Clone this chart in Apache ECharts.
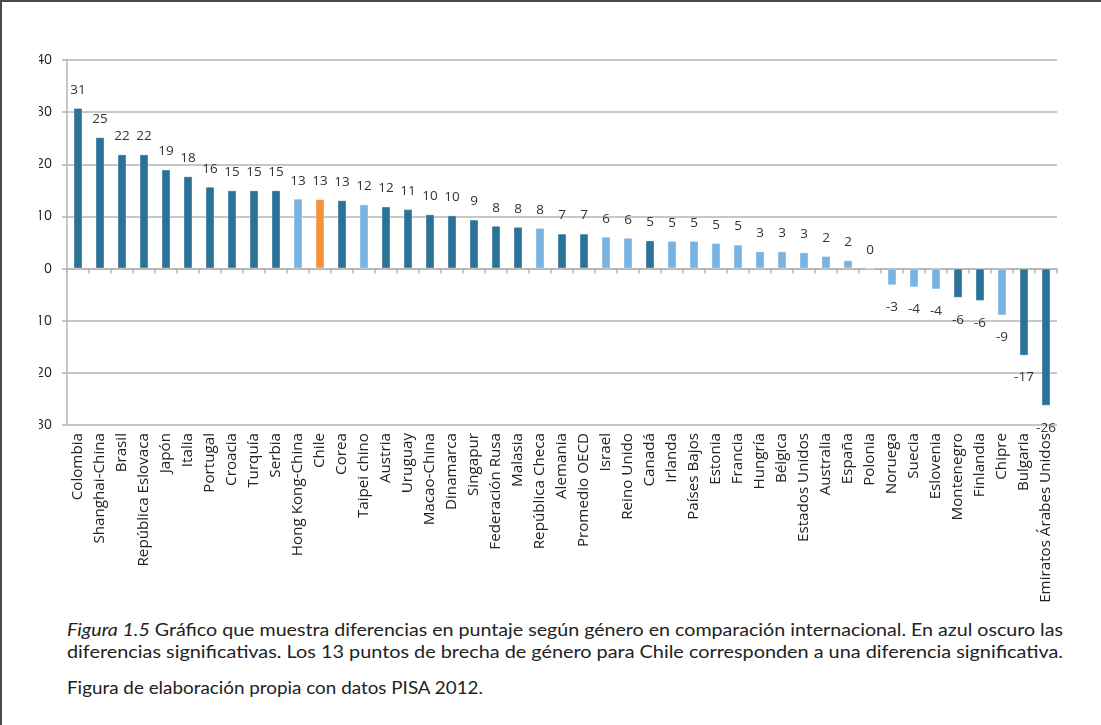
<!DOCTYPE html>
<html>
<head>
<meta charset="utf-8">
<script src="https://cdn.jsdelivr.net/npm/echarts@6/dist/echarts.min.js"></script>
<style>
  html, body { margin: 0; padding: 0; background: #fff; }
  #page { position: relative; width: 1101px; height: 725px; overflow: hidden; }
  #frame { position: absolute; left: 0; top: 0; width: 1101px; height: 725px;
           border-left: 2px solid #4a4a4a; border-top: 2px solid #4a4a4a; box-sizing: border-box; }
  #chart { position: absolute; left: 0; top: 0; width: 1101px; height: 610px;
           clip-path: inset(0 0 0 39px); }
  .cap { position: absolute; left: 67px; white-space: nowrap; color: #222;
         font-family: Lato, "Open Sans", sans-serif; font-size: 17px; transform-origin: 0 0; }
  .cap i { font-style: italic; }
</style>
</head>
<body>
<div id="page">
  <div id="frame"></div>
  <div id="chart"></div>
  <div class="cap" id="cap1" style="top:619px"><i>Figura 1.5</i> Gráfico que muestra diferencias en puntaje según género en comparación internacional. En azul oscuro las</div>
  <div class="cap" id="cap2" style="top:641px">diferencias significativas. Los 13 puntos de brecha de género para Chile corresponden a una diferencia significativa.</div>
  <div class="cap" id="cap3" style="top:677px">Figura de elaboración propia con datos PISA 2012.</div>
</div>
<script>
// PISA 2012: score gap by gender (points), by country
const countries = [
  'Colombia', 'Shanghai-China', 'Brasil', 'República Eslovaca', 'Japón', 'Italia',
  'Portugal', 'Croacia', 'Turquía', 'Serbia', 'Hong Kong-China', 'Chile', 'Corea',
  'Taipei chino', 'Austria', 'Uruguay', 'Macao-China', 'Dinamarca', 'Singapur',
  'Federación Rusa', 'Malasia', 'República Checa', 'Alemania', 'Promedio OECD',
  'Israel', 'Reino Unido', 'Canadá', 'Irlanda', 'Países Bajos', 'Estonia', 'Francia',
  'Hungría', 'Bélgica', 'Estados Unidos', 'Australia', 'España', 'Polonia', 'Noruega',
  'Suecia', 'Eslovenia', 'Montenegro', 'Finlandia', 'Chipre', 'Bulgaria',
  'Emiratos Árabes Unidos'
];
const gaps = [
  30.8, 25.2, 21.9, 21.9, 19.0, 17.7,
  15.7, 15.0, 15.0, 15.0, 13.4, 13.3, 13.1,
  12.3, 11.9, 11.4, 10.4, 10.2, 9.4,
  8.2, 8.0, 7.8, 6.7, 6.7,
  6.1, 5.9, 5.4, 5.3, 5.3, 4.9, 4.6,
  3.3, 3.3, 3.1, 2.4, 1.6, 0, -3.2,
  -3.6, -4.0, -5.6, -6.2, -9.0, -16.7,
  -26.3
];
// 1 = statistically significant difference
const significant = [
  1, 1, 1, 1, 1, 1,
  1, 1, 1, 1, 0, 1, 1,
  0, 1, 1, 1, 1, 1,
  1, 1, 0, 1, 1,
  0, 0, 1, 0, 0, 0, 0,
  0, 0, 0, 0, 0, 0, 0,
  0, 0, 1, 1, 0, 1,
  1
];
const highlighted = 'Chile';
const yTicks = { min: -30, max: 40, interval: 10 };

const DARK = '#2b7299', LIGHT = '#79b3e1', ORANGE = '#f7923c';
const GRID_COLOR = '#b4b4b4';
const FONT = '"Open Sans", sans-serif';

// size the category labels so the longest name spans about 170px
function fittedSize(text, target, base) {
  const ctx = document.createElement('canvas').getContext('2d');
  ctx.font = base + 'px ' + FONT;
  const w = ctx.measureText(text).width;
  return Math.round(base * target / w * 10) / 10;
}
const catFontSize = fittedSize('Emiratos Árabes Unidos', 170, 13);

const barData = gaps.map((v, i) => {
  const color = countries[i] === highlighted ? ORANGE : (significant[i] ? DARK : LIGHT);
  return {
    value: v,
    itemStyle: { color: color, borderColor: 'rgba(255,255,255,0.35)', borderWidth: 1 },
    label: v < 0 ? { position: 'bottom', distance: 15 } : { position: 'top', distance: 11 }
  };
});

const chart = echarts.init(document.getElementById('chart'), null, { renderer: 'canvas' });
chart.setOption({
  animation: false,
  grid: { left: 67, right: 44, top: 60, bottom: 185 },
  xAxis: [
    {
      type: 'category', data: countries, position: 'bottom',
      axisLine: { show: false, onZero: false }, axisTick: { show: false },
      axisLabel: { interval: 0, rotate: 90, margin: 8, color: '#222', fontSize: catFontSize, fontFamily: FONT }
    },
    {
      type: 'category', data: countries, position: 'bottom',
      axisLine: { show: true, onZero: true, lineStyle: { color: GRID_COLOR, width: 1.5 } },
      axisTick: { show: true, interval: 0, length: 5, lineStyle: { color: GRID_COLOR, width: 1.5 } },
      axisLabel: { show: false }
    }
  ],
  yAxis: {
    type: 'value', min: yTicks.min, max: yTicks.max, interval: yTicks.interval,
    axisLine: { show: true, lineStyle: { color: GRID_COLOR, width: 1.5 } },
    axisTick: { show: true, length: 5, lineStyle: { color: GRID_COLOR, width: 1.5 } },
    splitLine: { show: true, lineStyle: { color: GRID_COLOR, width: 1.5 } },
    axisLabel: { color: '#222', fontSize: 14, fontFamily: FONT, margin: 15 }
  },
  series: [{
    type: 'bar', xAxisIndex: 0, data: barData, barWidth: 9,
    label: {
      show: true, color: '#333', fontSize: 13.5, fontFamily: FONT,
      formatter: p => String(Math.round(p.value))
    }
  }]
});

// fit each caption line to its column width
[['cap1', 996], ['cap2', 996], ['cap3', 416]].forEach(([id, w]) => {
  const el = document.getElementById(id);
  const natural = el.getBoundingClientRect().width;
  el.style.transform = 'scaleX(' + (w / natural) + ')';
});
</script>
</body>
</html>
